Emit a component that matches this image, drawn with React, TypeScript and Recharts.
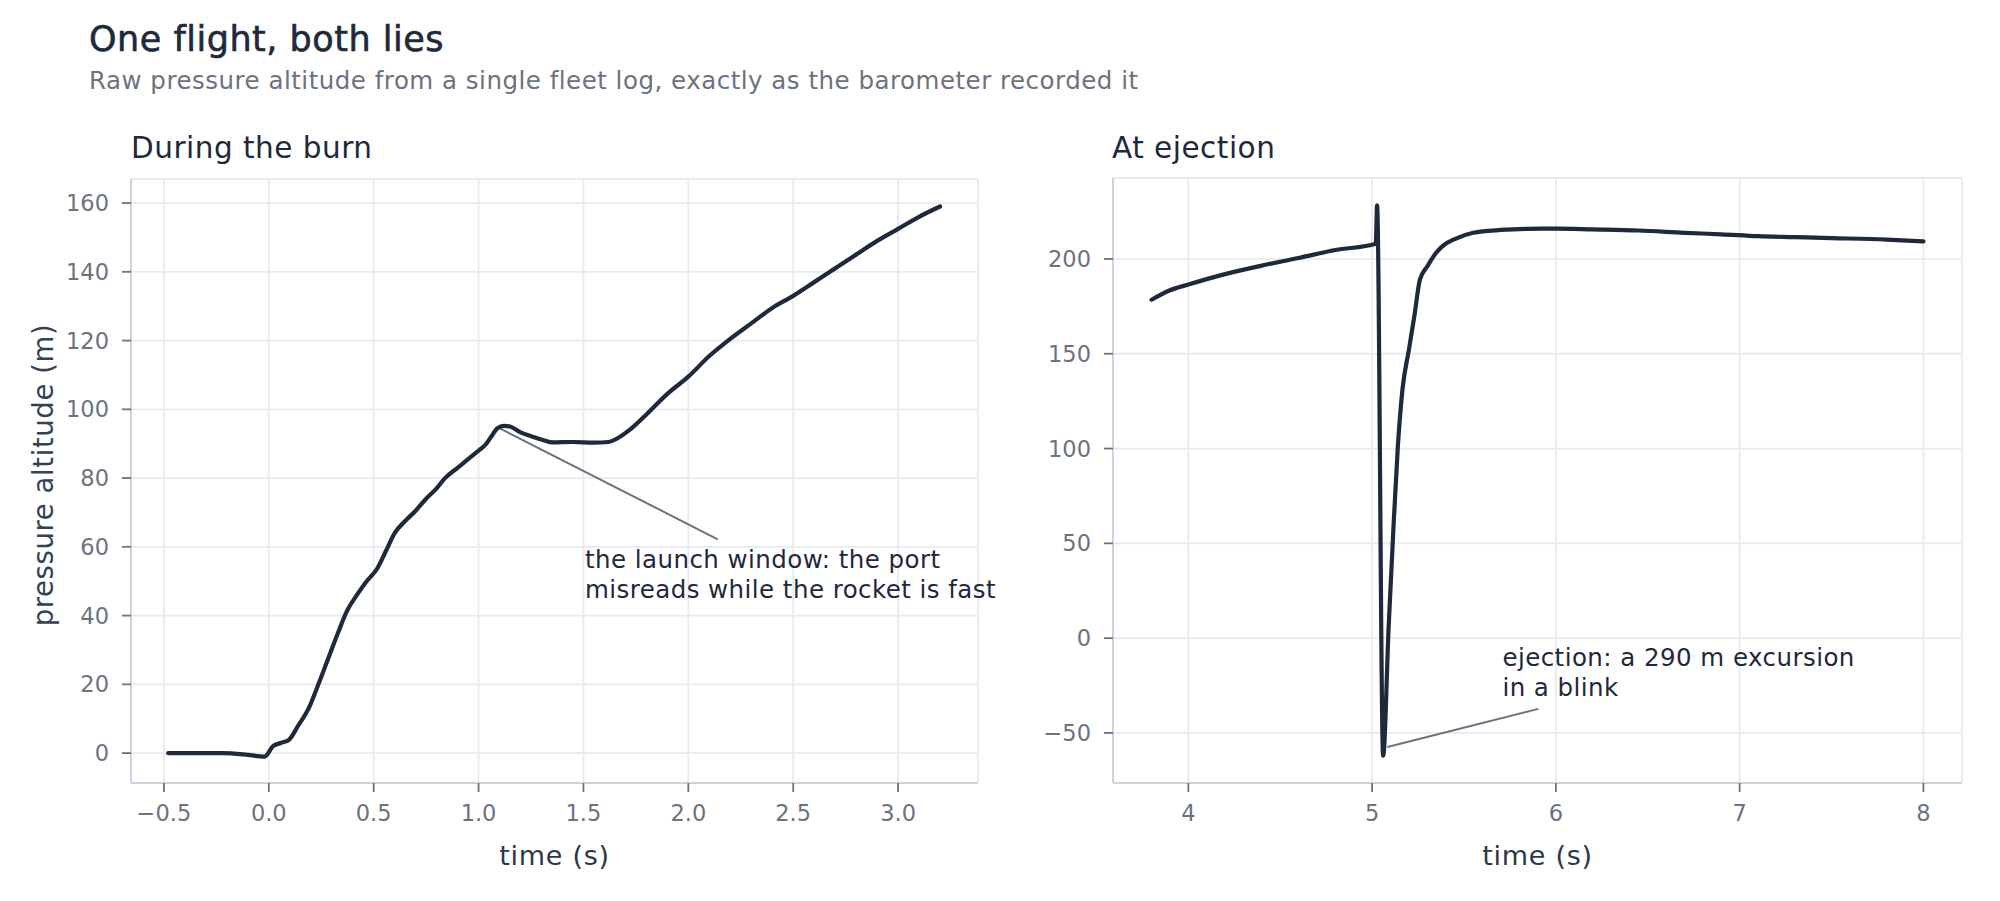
import React from 'react';
import { LineChart, Line, XAxis, YAxis, CartesianGrid, ReferenceLine, ReferenceDot } from 'recharts';

const FONT = '"DejaVu Sans", Inter, sans-serif';

// ---- Panel 1: during the burn ----
const burnTime = [-0.48, -0.35, -0.22, -0.1, -0.02, 0.02, 0.06, 0.095, 0.14, 0.19, 0.23, 0.28, 0.33, 0.37, 0.42, 0.46, 0.52, 0.56, 0.6, 0.65, 0.7, 0.75, 0.8, 0.84, 0.9, 0.95, 1.0, 1.03, 1.06, 1.09, 1.12, 1.15, 1.2, 1.25, 1.3, 1.35, 1.45, 1.55, 1.62, 1.66, 1.72, 1.8, 1.9, 2.0, 2.1, 2.2, 2.3, 2.4, 2.5, 2.6, 2.7, 2.8, 2.9, 3.0, 3.1, 3.2];
const burnAlt = [0, 0, 0, -0.5, -1, 2, 3, 3.8, 8, 13, 19, 27, 35, 41, 46, 49.5, 54, 59, 64, 67.5, 70.5, 74, 77, 80, 83, 85.5, 88, 89.5, 92, 94.5, 95.2, 95, 93.3, 92.2, 91.2, 90.4, 90.5, 90.3, 90.5, 91.5, 94, 98.5, 104.5, 109.5, 115.5, 120.5, 125, 129.5, 133, 137, 141, 145, 149, 152.5, 156, 159];
const burnXTicks = [-0.5, 0, 0.5, 1, 1.5, 2, 2.5, 3];
const burnYTicks = [0, 20, 40, 60, 80, 100, 120, 140, 160];

// ---- Panel 2: at ejection ----
const ejectTime = [3.8, 3.9, 4.0, 4.2, 4.4, 4.6, 4.8, 5.02, 5.027, 5.06, 5.09, 5.115, 5.14, 5.165, 5.2, 5.23, 5.26, 5.3, 5.35, 5.4, 5.45, 5.55, 5.7, 5.85, 6.0, 6.2, 6.45, 6.7, 6.9, 7.1, 7.3, 7.5, 7.8, 8.0];
const ejectAlt = [178.5, 183.5, 186.5, 192, 196.5, 200.5, 204.7, 208, 228.3, -62, 6, 56, 101, 131, 152, 170, 189, 196, 203.5, 208, 210.5, 213.8, 215.3, 215.9, 216, 215.6, 215, 213.8, 213, 212, 211.5, 211, 210.2, 209.3];
const ejectXTicks = [4, 5, 6, 7, 8];
const ejectYTicks = [-50, 0, 50, 100, 150, 200];

const burnData = burnTime.map((t, i) => ({ t, v: burnAlt[i] }));
const ejectData = ejectTime.map((t, i) => ({ t, v: ejectAlt[i] }));

const TICK_COLOR = '#6b7280';
const GRID = '#e8eaee';
const AXIS = '#cbd3df';
const INK = '#1e293b';

const minus = (s: string) => s.replace('-', '\u2212');

const tickStyle = { fill: TICK_COLOR, fontSize: 22.5, fontFamily: FONT };

const XLabel = (props: any) => {
  const vb = props.viewBox;
  return (
    <text x={vb.x + vb.width / 2} y={vb.y + 82} textAnchor="middle" fill="#2d3748" fontSize={27} letterSpacing={0.7} fontFamily={FONT}>
      time (s)
    </text>
  );
};

const YLabel = (props: any) => {
  const vb = props.viewBox;
  const cx = 53;
  const cy = vb.y + vb.height / 2 - 6;
  return (
    <text x={cx} y={cy} transform={`rotate(-90 ${cx} ${cy})`} textAnchor="middle" fill="#334155" fontSize={27.5} letterSpacing={0.6} fontFamily={FONT}>
      pressure altitude (m)
    </text>
  );
};

const anno = (lines: string[]) => (props: any) => {
  const vb = props.viewBox;
  return (
    <text x={vb.x} y={vb.y} fill={INK} fontSize={24.5} letterSpacing={0.45} fontFamily={FONT}>
      {lines.map((l, i) => (
        <tspan key={i} x={vb.x} dy={i === 0 ? 0 : 30}>{l}</tspan>
      ))}
    </text>
  );
};

export default function App() {
  return (
    <div style={{ position: 'absolute', left: 0, top: 0, width: 2000, height: 901, background: '#ffffff', overflow: 'hidden' }}>
      <svg width={2000} height={901} style={{ position: 'absolute', left: 0, top: 0 }}>
        <text x={89} y={51} fill={INK} stroke={INK} strokeWidth={0.6} fontSize={35} letterSpacing={0.5} fontFamily={FONT}>One flight, both lies</text>
        <text x={89} y={89} fill="#6b7280" fontSize={24.5} letterSpacing={0.5} fontFamily={FONT}>Raw pressure altitude from a single fleet log, exactly as the barometer recorded it</text>
        <text x={131} y={158} fill={INK} fontSize={29.5} letterSpacing={0.5} fontFamily={FONT}>During the burn</text>
        <text x={1112} y={158} fill={INK} fontSize={29.5} letterSpacing={0.5} fontFamily={FONT}>At ejection</text>
      </svg>

      <div style={{ position: 'absolute', left: 0, top: 0 }}>
        <LineChart width={1000} height={901} data={burnData} margin={{ top: 179, right: 22, bottom: 58, left: 0 }}>
          <CartesianGrid stroke={GRID} strokeWidth={1.8} />
          <XAxis
            dataKey="t"
            type="number"
            domain={[-0.657, 3.381]}
            ticks={burnXTicks}
            allowDataOverflow
            height={60}
            tickSize={9}
            tickMargin={13}
            tick={tickStyle}
            tickLine={{ stroke: TICK_COLOR, strokeWidth: 1.8 }}
            axisLine={{ stroke: AXIS, strokeWidth: 2 }}
            tickFormatter={(v: number) => minus(v.toFixed(1))}
            label={XLabel}
          />
          <YAxis
            type="number"
            domain={[-8.7, 167]}
            ticks={burnYTicks}
            allowDataOverflow
            width={131}
            tickSize={9}
            tickMargin={13}
            tick={tickStyle}
            tickLine={{ stroke: TICK_COLOR, strokeWidth: 1.8 }}
            axisLine={{ stroke: AXIS, strokeWidth: 2 }}
            label={YLabel}
          />
          <ReferenceLine segment={[{ x: 1.1, y: 94.5 }, { x: 2.14, y: 62.2 }]} stroke="#6b7280" strokeWidth={2} />
          <ReferenceDot
            x={1.507}
            y={53.8}
            r={0}
            fill="none"
            stroke="none"
            label={anno(['the launch window: the port', 'misreads while the rocket is fast'])}
          />
          <Line type="monotone" dataKey="v" stroke={INK} strokeWidth={4.2} dot={false} isAnimationActive={false} strokeLinejoin="round" strokeLinecap="round" />
        </LineChart>
      </div>

      <div style={{ position: 'absolute', left: 1000, top: 0 }}>
        <LineChart width={1000} height={901} data={ejectData} margin={{ top: 178, right: 38, bottom: 58, left: 0 }}>
          <CartesianGrid stroke={GRID} strokeWidth={1.8} />
          <XAxis
            dataKey="t"
            type="number"
            domain={[3.59, 8.21]}
            ticks={ejectXTicks}
            allowDataOverflow
            height={60}
            tickSize={9}
            tickMargin={13}
            tick={tickStyle}
            tickLine={{ stroke: TICK_COLOR, strokeWidth: 1.8 }}
            axisLine={{ stroke: AXIS, strokeWidth: 2 }}
            label={XLabel}
          />
          <YAxis
            type="number"
            domain={[-76.4, 242.7]}
            ticks={ejectYTicks}
            allowDataOverflow
            width={113}
            tickSize={9}
            tickMargin={13}
            tick={tickStyle}
            tickLine={{ stroke: TICK_COLOR, strokeWidth: 1.8 }}
            axisLine={{ stroke: AXIS, strokeWidth: 2 }}
            tickFormatter={(v: number) => minus(String(v))}
          />
          <ReferenceLine segment={[{ x: 5.083, y: -57.4 }, { x: 5.905, y: -37.3 }]} stroke="#6b7280" strokeWidth={2} />
          <ReferenceDot
            x={5.709}
            y={-14.7}
            r={0}
            fill="none"
            stroke="none"
            label={anno(['ejection: a 290 m excursion', 'in a blink'])}
          />
          <Line type="monotone" dataKey="v" stroke={INK} strokeWidth={4.2} dot={false} isAnimationActive={false} strokeLinejoin="round" strokeLinecap="round" />
        </LineChart>
      </div>
    </div>
  );
}
